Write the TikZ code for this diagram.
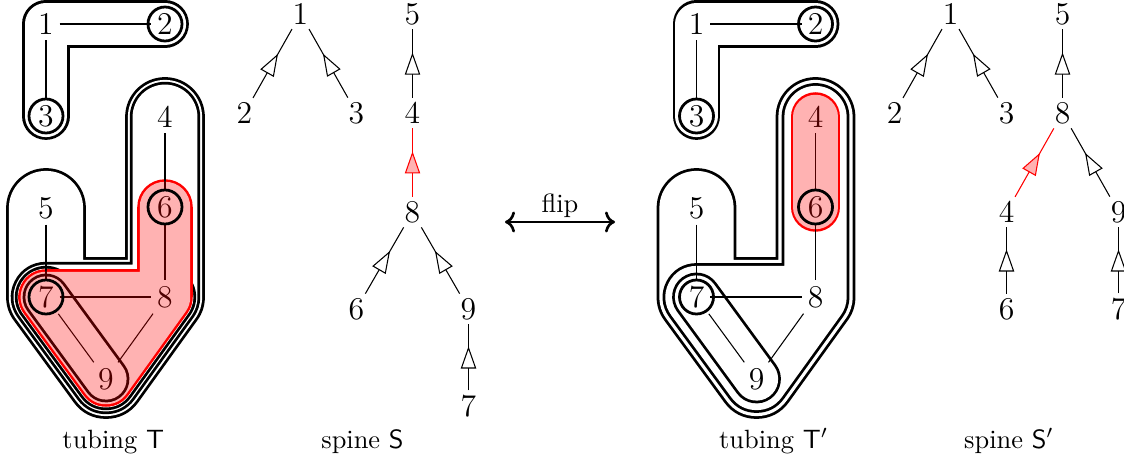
\documentclass[tikz,border=0pt]{standalone}
\usetikzlibrary{arrows.meta, decorations.markings, calc}
\def\u{0.37879pt}
\tikzset{
  v/.style={font=\large, inner sep=2pt},
  sv/.style={font=\large, inner sep=1.5pt},
  tubeb/.style={draw=black, line width=2*#1*\u+1.05pt, line cap=round, line join=round},
  tubew/.style={draw=white, line width=2*#1*\u-1.05pt, line cap=round, line join=round},
  tuber/.style={draw=red, line width=2*#1*\u+0.95pt, line cap=round, line join=round},
  tuberw/.style={draw=white, line width=2*#1*\u-0.95pt, line cap=round, line join=round},
  tubeov/.style={draw=red, opacity=0.3, line width=2*#1*\u, line cap=round, line join=round},
  ring/.style={draw=black, line width=1.05pt},
  edge/.style={line width=0.4pt},
  midarrow/.style={postaction={decorate}, decoration={markings, mark=at position 0.5 with {\arrow[xshift=4.2pt]{Triangle[length=8.4pt, width=5.8pt, fill=white]}}}},
  midarrowred/.style={draw=red, postaction={decorate}, decoration={markings, mark=at position 0.5 with {\arrow[xshift=4.2pt]{Triangle[length=8.4pt, width=5.8pt, fill=red!30]}}}},
  lab/.style={anchor=base},
}
\begin{document}
\begin{tikzpicture}[x=\u, y=-\u]
\useasboundingbox (0,0) rectangle (1124,459);
% ---------- coordinates of tubing T
\coordinate (a1) at (46,24);
\coordinate (a2) at (165,24);
\coordinate (a3) at (46,116);
\coordinate (a4) at (165,117);
\coordinate (a5) at (46,208);
\coordinate (a6) at (165,207);
\coordinate (a7) at (46,297);
\coordinate (a8) at (165,297);
\coordinate (a9) at (106,379);
\coordinate (am) at ($(a7)!0.5!(a8)$);
% ---------- coordinates of tubing T'
\coordinate (b1) at (696.5,24);
\coordinate (b2) at (815.5,24);
\coordinate (b3) at (696.5,116);
\coordinate (b4) at (815.5,117);
\coordinate (b5) at (696.5,208);
\coordinate (b6) at (815.5,207);
\coordinate (b7) at (696.5,297);
\coordinate (b8) at (815.5,297);
\coordinate (b9) at (756.5,379);
% ---------- tubes of T
\draw[tubeb=22.5] (a3)--(a1)--(a2);
\draw[tubew=22.5] (a3)--(a1)--(a2);
\draw[tubeb=38.5] (a5)--(a7)--(a9)--(a8)--(a4) (a7)--(a8);
\draw[tubew=38.5] (a5)--(a7)--(a9)--(a8)--(a4) (a7)--(a8);
\draw[tubeb=33.8] (a4)--(a8)--(a9)--(a7)--(a8);
\draw[tubew=33.8] (a4)--(a8)--(a9)--(a7)--(a8);
\draw[tubeb=29.8] (a7)--(a9)--(a8);
\draw[tubew=29.8] (a7)--(a9)--(a8);
\draw[tuber=26.5] (a6)--(a8)--(a9)--(a7)--(a8) (a9)--(am);
\draw[tuberw=26.5] (a6)--(a8)--(a9)--(a7)--(a8) (a9)--(am);
\draw[tubeb=22] (a7)--(a9);
\draw[tubew=22] (a7)--(a9);
% ---------- tubes of T'
\draw[tubeb=22.5] (b3)--(b1)--(b2);
\draw[tubew=22.5] (b3)--(b1)--(b2);
\draw[tubeb=38.5] (b5)--(b7)--(b9)--(b8)--(b4) (b7)--(b8);
\draw[tubew=38.5] (b5)--(b7)--(b9)--(b8)--(b4) (b7)--(b8);
\draw[tubeb=32.5] (b4)--(b8)--(b9)--(b7)--(b8);
\draw[tubew=32.5] (b4)--(b8)--(b9)--(b7)--(b8);
\draw[tuber=23.5] (b4)--(b6);
\draw[tuberw=23.5] (b4)--(b6);
\draw[tubeb=23] (b7)--(b9);
\draw[tubew=23] (b7)--(b9);
% ---------- nodes of T and T'
\foreach \i in {1,...,9} {
  \node[v] (t\i) at (a\i) {\i};
  \node[v] (r\i) at (b\i) {\i};
}
\foreach \p/\q in {1/2,1/3,4/6,5/7,6/8,7/8,7/9,8/9} {
  \draw[edge] (t\p) -- (t\q);
  \draw[edge] (r\p) -- (r\q);
}
% ---------- red overlays
\draw[tubeov=26.5] (a6)--(a8)--(a9)--(a7)--(a8) (a9)--(am);
\draw[tubeov=23.5] (b4)--(b6);
% ---------- singleton tubes
\foreach \c in {a2,a3,a6,a7,b2,b3,b6,b7} {
  \draw[ring] (\c) circle[radius=17];
}
% ---------- spine S
\node[sv] (s1) at (300.5,14) {1};
\node[sv] (s2) at (244.5,113) {2};
\node[sv] (s3) at (356.5,113) {3};
\node[sv] (s5) at (412.5,14) {5};
\node[sv] (s4) at (412.5,113) {4};
\node[sv] (s8) at (412.5,212) {8};
\node[sv] (s6) at (356.5,309) {6};
\node[sv] (s9) at (468.5,309) {9};
\node[sv] (s7) at (468.5,406) {7};
\draw[edge, midarrow] (s2) -- (s1);
\draw[edge, midarrow] (s3) -- (s1);
\draw[edge, midarrow] (s4) -- (s5);
\draw[edge, midarrowred] (s8) -- (s4);
\draw[edge, midarrow] (s6) -- (s8);
\draw[edge, midarrow] (s9) -- (s8);
\draw[edge, midarrow] (s7) -- (s9);
% ---------- spine S'
\node[sv] (p1) at (950.5,14) {1};
\node[sv] (p2) at (894.5,113) {2};
\node[sv] (p3) at (1006.5,113) {3};
\node[sv] (p5) at (1062.5,14) {5};
\node[sv] (p8) at (1062.5,113) {8};
\node[sv] (p4) at (1006.5,212) {4};
\node[sv] (p9) at (1118.5,212) {9};
\node[sv] (p6) at (1006.5,309) {6};
\node[sv] (p7) at (1118.5,309) {7};
\draw[edge, midarrow] (p2) -- (p1);
\draw[edge, midarrow] (p3) -- (p1);
\draw[edge, midarrow] (p8) -- (p5);
\draw[edge, midarrowred] (p4) -- (p8);
\draw[edge, midarrow] (p9) -- (p8);
\draw[edge, midarrow] (p6) -- (p4);
\draw[edge, midarrow] (p7) -- (p9);
% ---------- flip arrow
\coordinate (fl) at (505,222);
\coordinate (fr) at (615,222);
\draw[<->, line width=1pt] (fl) -- node[midway, anchor=base, yshift=3.6pt] (flip) {flip} (fr);
% ---------- captions
\node[lab] (cT) at (113.3,448) {tubing $\mathsf{T}$};
\node[lab] (cS) at (362.5,448) {spine $\mathsf{S}$};
\node[lab] (cT2) at (773.7,448) {tubing $\mathsf{T}'$};
\node[lab] (cS2) at (1009,448) {spine $\mathsf{S}'$};
\end{tikzpicture}
\end{document}
